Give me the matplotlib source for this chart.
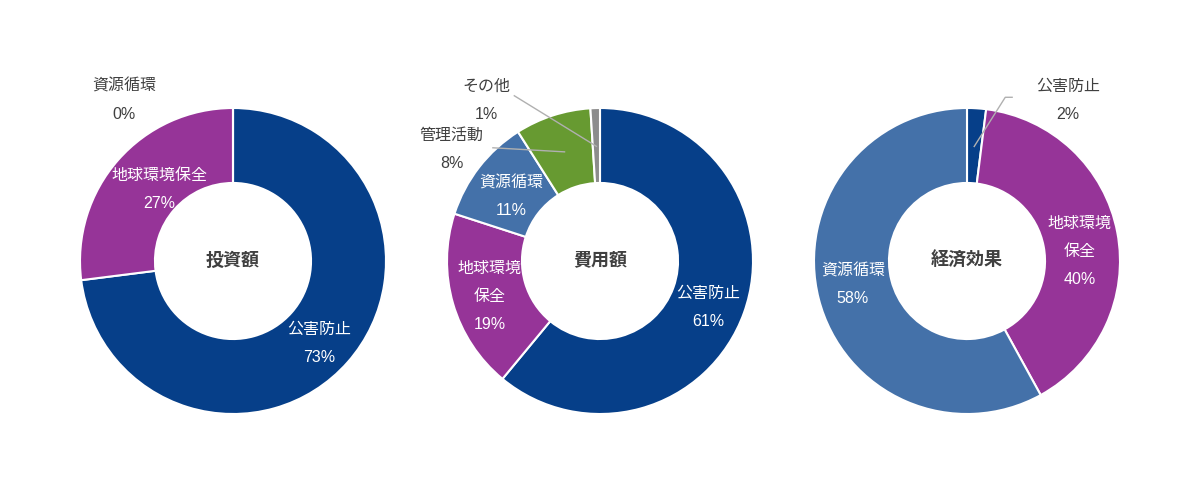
import numpy as np
import matplotlib
matplotlib.use('Agg')
import matplotlib.pyplot as plt

plt.rcParams['font.family'] = ['Liberation Sans', 'Noto Sans CJK JP', 'DejaVu Sans']

# データ
titulos = ['投資額', '費用額', '経済効果']

nomes_1 = ['公害防止', '地球環境保全', '資源循環']
valores_1 = [73, 27, 0]

nomes_2 = ['公害防止', '地球環境\n保全', '資源循環', '管理活動', 'その他']
valores_2 = [61, 19, 11, 8, 1]

nomes_3 = ['公害防止', '地球環境\n保全', '資源循環']
valores_3 = [2, 40, 58]

AZUL = '#063f89'
ROXO = '#963498'
AZUL_CLARO = '#4471a9'
VERDE = '#679a31'
CINZA = '#8c8c8c'

cores_1 = [AZUL, ROXO, AZUL_CLARO]
cores_2 = [AZUL, ROXO, AZUL_CLARO, VERDE, CINZA]
cores_3 = [AZUL, ROXO, AZUL_CLARO]

# rótulos fora da rosca: índice -> (posição do texto, ponto da linha ou None)
fora_1 = {2: ((-0.71, 1.05), None)}
fora_2 = {3: ((-0.97, 0.73), [(-0.70, 0.74)]),
          4: ((-0.74, 1.05), [(-0.56, 1.08)])}
fora_3 = {0: ((0.66, 1.05), [(0.295, 1.07), (0.25, 1.07)])}

# pequenos ajustes dos rótulos internos (para caber no anel)
ajuste_1 = {0: (0.0, -0.04), 1: (0.08, -0.03)}
ajuste_2 = {0: (0.0, -0.05), 1: (0.0, -0.02), 2: (0.01, -0.04)}
ajuste_3 = {1: (0.0, -0.08), 2: (-0.02, 0.03)}

W, H = 1200, 496
fig = plt.figure(figsize=(W / 100, H / 100), dpi=100)
fig.patch.set_facecolor('white')

centros_x = [233, 600, 967]
cy = 235
R = 153
passo = 14 / R  # meio espaçamento entre linhas, em unidades do raio


def escreve(ax, x, y, linhas, cor):
    n = len(linhas)
    for k, t in enumerate(linhas):
        dy = ((n - 1) / 2 - k) * 2 * passo
        ax.text(x, y + dy, t, ha='center', va='center', fontsize=11.5, color=cor)


for cx, titulo, nomes, valores, cores, fora, ajuste in zip(
        centros_x, titulos,
        [nomes_1, nomes_2, nomes_3],
        [valores_1, valores_2, valores_3],
        [cores_1, cores_2, cores_3],
        [fora_1, fora_2, fora_3],
        [ajuste_1, ajuste_2, ajuste_3]):
    ax = fig.add_axes([(cx - R) / W, (cy - R) / H, 2 * R / W, 2 * R / H])
    wedges, _ = ax.pie(valores, colors=cores, startangle=90, counterclock=False,
                       radius=1, wedgeprops=dict(width=0.49, edgecolor='white', linewidth=1.5))
    ax.set_xlim(-1, 1)
    ax.set_ylim(-1, 1)
    ax.axis('off')

    for i, w in enumerate(wedges):
        ang = np.deg2rad((w.theta1 + w.theta2) / 2)
        px, py = 0.75 * np.cos(ang), 0.75 * np.sin(ang)
        linhas = nomes[i].split('\n') + [f'{valores[i]}%']
        if i in fora:
            (tx, ty), pontos = fora[i]
            escreve(ax, tx, ty, linhas, '#404040')
            if pontos is not None:
                xs = [px] + [p[0] for p in pontos[::-1]]
                ys = [py] + [p[1] for p in pontos[::-1]]
                ax.plot(xs, ys, color='#b0b0b0', lw=1, clip_on=False)
        else:
            ddx, ddy = ajuste.get(i, (0, 0))
            escreve(ax, px + ddx, py + ddy, linhas, 'white')

    ax.text(0, 0, titulo, ha='center', va='center', fontsize=13,
            fontweight='bold', color='#404040')

fig.savefig('out.png', dpi=100)
